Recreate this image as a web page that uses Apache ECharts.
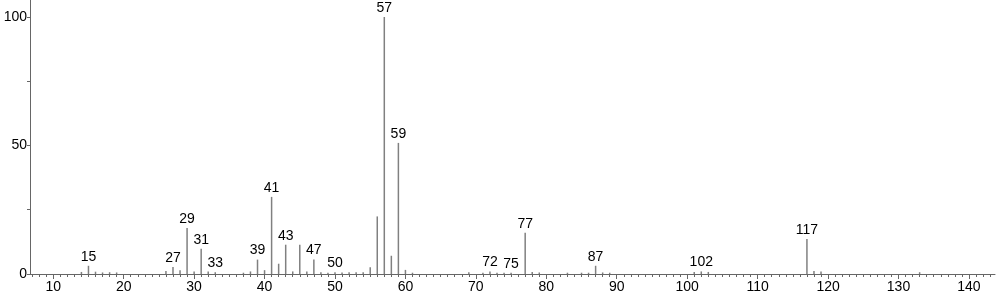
<!DOCTYPE html>
<html>
<head>
<meta charset="utf-8">
<script src="https://cdn.jsdelivr.net/npm/echarts@6/dist/echarts.min.js"></script>
<style>html,body{margin:0;padding:0;background:#fff;}#c{width:996px;height:299px;}</style>
</head>
<body>
<div id="c"></div>
<script>
const mzValues = [14,15,16,17,18,19,26,27,28,29,30,31,32,33,37,38,39,40,41,42,43,44,45,46,47,48,49,50,51,52,53,54,55,56,57,58,59,60,61,69,71,72,73,74,75,77,78,79,83,85,86,87,88,89,101,102,103,117,118,119,133];
const intensities = [0.8,3.2,0.9,0.6,0.7,0.6,1.2,2.7,1.5,17.9,1.0,9.8,1.0,0.7,0.5,1.0,5.6,1.5,30,4.0,11.4,1.0,11.4,1.0,5.6,0.7,0.5,0.7,0.6,0.7,0.7,0.7,2.6,22.4,100,7.1,51,1.6,0.5,0.7,0.5,1.0,0.5,0.5,0.5,16,0.8,0.6,0.5,0.5,0.5,3.2,0.6,0.5,0.8,1.0,0.8,13.6,1.2,1.0,0.7];
const labeledPeaks = [15,27,29,31,33,39,41,43,47,50,57,59,72,75,77,87,102,117];
const xTickLabels = [10,20,30,40,50,60,70,80,90,100,110,120,130,140];
const yTickLabels = [0,50,100];
const yTicks = [0,25,50,75,100];
const xMinorTicks = [];
for (let v = 7; v <= 143; v++) xMinorTicks.push(v);

const data = mzValues.map((m, i) => ({
  value: [m, intensities[i]],
  label: { show: labeledPeaks.includes(m) }
}));

const font = 'Liberation Sans, Arial, sans-serif';
const chart = echarts.init(document.getElementById('c'));
const xMin = 6.7, xMax = 143.7;
chart.setOption({
  animation: false,
  grid: { left: 30, right: 1, top: 0, bottom: 25 },
  xAxis: [{
    type: 'value', min: xMin, max: xMax,
    axisLine: { lineStyle: { color: '#666', width: 1 } },
    axisTick: { show: true, length: 5, customValues: xTickLabels, lineStyle: { color: '#666' } },
    axisLabel: { customValues: xTickLabels, color: '#000', fontSize: 14, fontFamily: font, margin: 6 },
    splitLine: { show: false }
  }, {
    type: 'value', min: xMin, max: xMax, position: 'bottom',
    axisLine: { show: false },
    axisTick: { show: true, length: 3, customValues: xMinorTicks, lineStyle: { color: '#666' } },
    axisLabel: { show: false },
    splitLine: { show: false }
  }],
  yAxis: {
    type: 'value', min: 0, max: 106.6,
    axisLine: { show: true, lineStyle: { color: '#666', width: 1 } },
    axisTick: { show: true, length: 3, customValues: yTicks, lineStyle: { color: '#666' } },
    axisLabel: { customValues: yTickLabels, color: '#000', fontSize: 14, fontFamily: font, margin: 3 },
    splitLine: { show: false }
  },
  series: [{
    type: 'bar',
    xAxisIndex: 0,
    barWidth: 1.5,
    data: data,
    itemStyle: { color: '#808080' },
    label: {
      position: 'top', distance: 2, color: '#000', fontSize: 14,
      fontFamily: font,
      formatter: p => String(p.value[0])
    }
  }]
});
</script>
</body>
</html>
